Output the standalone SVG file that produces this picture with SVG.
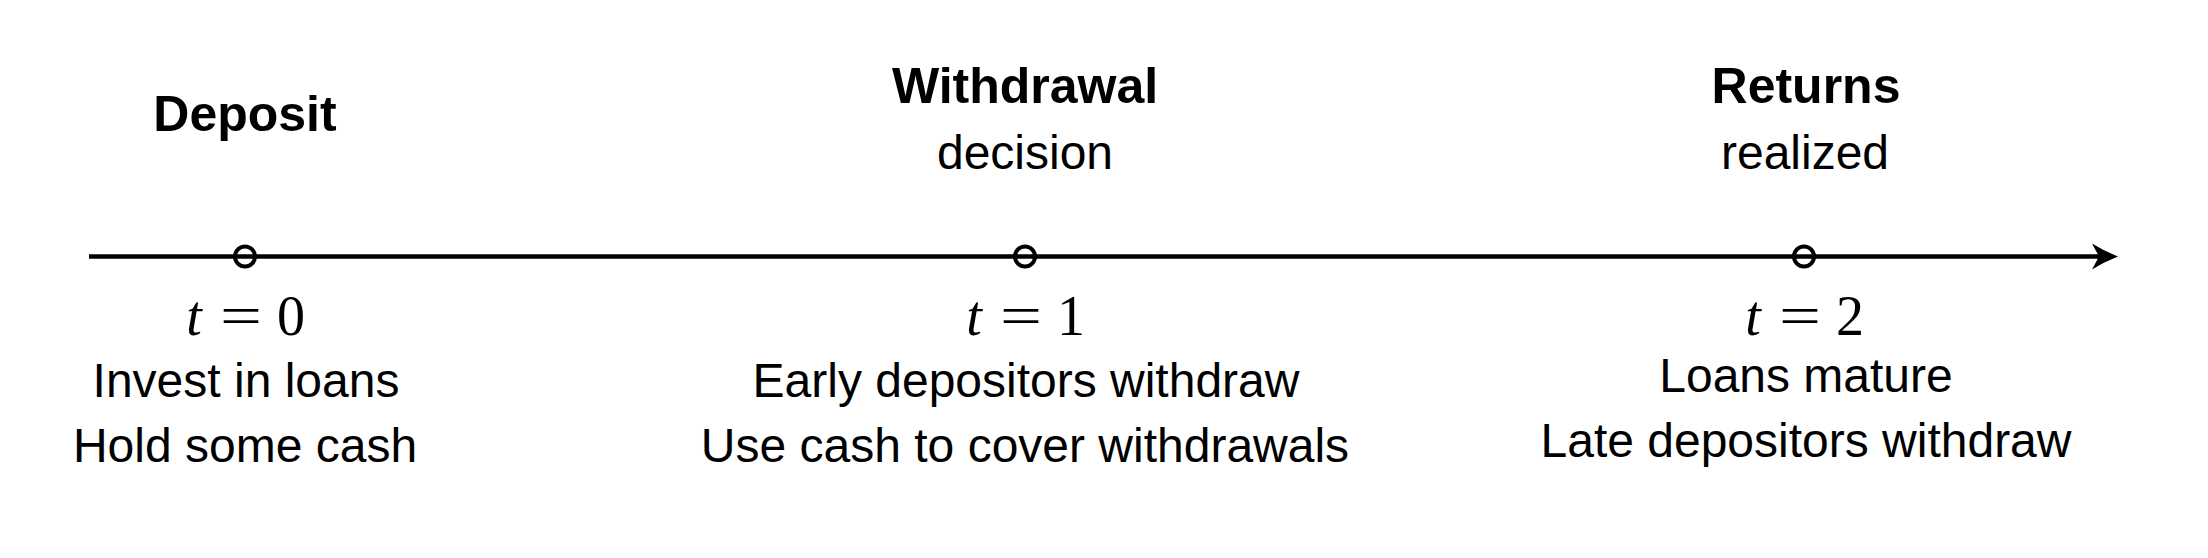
<svg xmlns="http://www.w3.org/2000/svg" width="2208" height="558" viewBox="0 0 2208 558">
<style>
.title{font-family:"Liberation Sans",Arial,sans-serif;font-weight:bold;font-size:50px;text-anchor:middle;fill:#000}
.body{font-family:"Liberation Sans",Arial,sans-serif;font-size:48px;text-anchor:middle;fill:#000}
.math{font-family:"Liberation Serif","Times New Roman",serif;font-size:56px;text-anchor:middle;fill:#000}
.it{font-style:italic}
.tick{fill:none;stroke:#000;stroke-width:4}
.axis{stroke:#000;stroke-width:4.5;fill:none}
</style>
<rect width="2208" height="558" fill="#fff"/>
<g id="connectors">
<line class="axis" x1="89" y1="256.5" x2="2104" y2="256.5"/>
<path d="M2118,256.5 Q2104,251 2092,243.5 L2099,256.5 L2092,269.5 Q2104,262 2118,256.5 Z" fill="#000"/>
</g>
<g id="t0">
<circle class="tick" cx="245" cy="256.5" r="10"/>
<text class="title" x="245" y="131">Deposit</text>
<text class="math it" x="194" y="335">t</text>
<text class="math" x="241" y="335" textLength="42" lengthAdjust="spacingAndGlyphs">=</text>
<text class="math" x="291" y="335">0</text>
<text class="body" x="246" y="397">Invest in loans</text>
<text class="body" x="245" y="462">Hold some cash</text>
</g>
<g id="t1">
<circle class="tick" cx="1025" cy="256.5" r="10"/>
<text class="title" x="1025" y="103">Withdrawal</text>
<text class="body" x="1025" y="169">decision</text>
<text class="math it" x="974" y="335">t</text>
<text class="math" x="1021" y="335" textLength="42" lengthAdjust="spacingAndGlyphs">=</text>
<text class="math" x="1071" y="335">1</text>
<text class="body" x="1026" y="397">Early depositors withdraw</text>
<text class="body" x="1025" y="462">Use cash to cover withdrawals</text>
</g>
<g id="t2">
<circle class="tick" cx="1804" cy="256.5" r="10"/>
<text class="title" x="1806" y="103">Returns</text>
<text class="body" x="1805" y="169">realized</text>
<text class="math it" x="1753" y="335">t</text>
<text class="math" x="1800" y="335" textLength="42" lengthAdjust="spacingAndGlyphs">=</text>
<text class="math" x="1850" y="335">2</text>
<text class="body" x="1806" y="392">Loans mature</text>
<text class="body" x="1806" y="457">Late depositors withdraw</text>
</g>
</svg>
